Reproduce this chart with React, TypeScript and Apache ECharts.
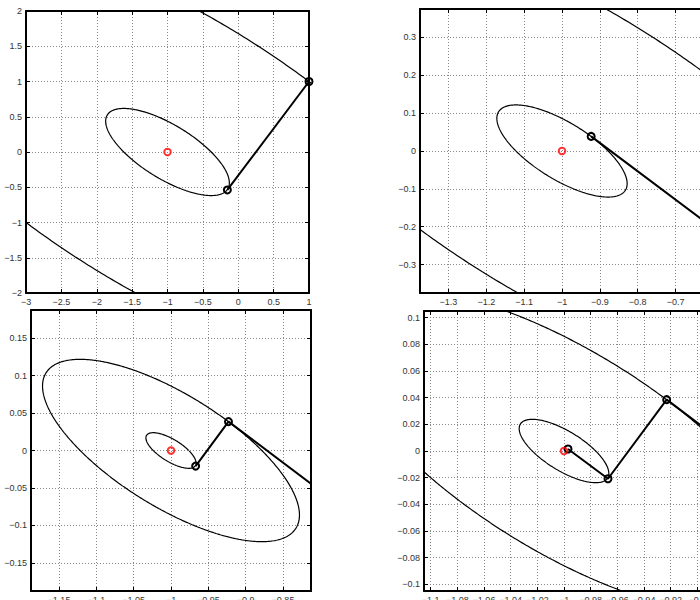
import React, { useEffect, useRef } from "react";
import * as echarts from "echarts";

// Iterates of the descent method
const iterX = [1, -0.154, -0.923, -0.967, -0.997];
const iterY = [1, -0.538, 0.0385, -0.0208, 0.0015];
// Minimiser (red marker)
const optX = [-1];
const optY = [0];
// Quadratic form of the contours: a*u^2 + 2*b*u*v + c*v^2 (u = x - optX, v = y - optY)
const quadCoef = [1, 1, 2];
// Contour levels drawn (the level sets through the iterates)
const levels = [10, 0.382, 0.0148, 0.000565];
// Levels shown in each panel (TL, TR, BL, BR)
const panelLevels = [[0, 1], [1, 2], [2, 3], [2, 3]];
// Number of iterates shown in each panel
const panelIters = [2, 3, 4, 5];
// Axis ranges of each panel
const panelXMin = [-3, -1.375, -1.1875, -1.105];
const panelXMax = [1, -0.625, -0.8125, -0.895];
const panelYMin = [-2, -0.375, -0.1875, -0.105];
const panelYMax = [2, 0.375, 0.1875, 0.105];
const panelSplit = [8, 8, 7, 10];

// layout (pixels)
const grids = [
  { left: 26, top: 11, width: 283, height: 282 },
  { left: 420, top: 9, width: 284, height: 284 },
  { left: 31, top: 310, width: 280, height: 281 },
  { left: 424, top: 311, width: 280, height: 280 },
];

function contour(level: number): number[][] {
  const [a, b, c] = quadCoef;
  const l11 = Math.sqrt(a);
  const l21 = b / l11;
  const l22 = Math.sqrt(c - l21 * l21);
  const r = Math.sqrt(level);
  const pts: number[][] = [];
  for (let i = 0; i <= 720; i++) {
    const t = (i * Math.PI) / 360;
    const v = (r * Math.sin(t)) / l22;
    const u = (r * Math.cos(t) - l21 * v) / l11;
    pts.push([optX[0] + u, optY[0] + v]);
  }
  return pts;
}

const fmt = (v: number) => {
  const s = String(+v.toFixed(6));
  return s.replace("-", "\u2212");
};

const FONT = "Liberation Sans";

export default function App() {
  const ref = useRef<HTMLDivElement>(null);
  useEffect(() => {
    if (!ref.current) return;
    const chart = echarts.init(ref.current, undefined, { renderer: "svg" });
    const xAxis: any[] = [];
    const yAxis: any[] = [];
    const series: any[] = [];
    grids.forEach((g, k) => {
      const showEnds = k === 0;
      const common = {
        type: "value",
        gridIndex: k,
        splitNumber: panelSplit[k],
      };
      const line = { show: true, onZero: false, lineStyle: { color: "#000", width: 2 } };
      const tick = { show: true, inside: true, length: 4, lineStyle: { color: "#000", width: 1 } };
      const label = {
        show: true,
        margin: 4,
        fontSize: 9,
        color: "#333",
        fontFamily: FONT,
        formatter: fmt,
        showMinLabel: showEnds,
        showMaxLabel: showEnds,
      };
      const split = { show: true, lineStyle: { type: [1, 2], color: "#888", width: 1 } };
      xAxis.push({ ...common, position: "bottom", min: panelXMin[k], max: panelXMax[k], axisLine: line, axisTick: tick, axisLabel: label, splitLine: split });
      xAxis.push({ ...common, position: "top", min: panelXMin[k], max: panelXMax[k], axisLine: line, axisTick: tick, axisLabel: { show: false }, splitLine: { show: false } });
      yAxis.push({ ...common, position: "left", min: panelYMin[k], max: panelYMax[k], axisLine: line, axisTick: tick, axisLabel: label, splitLine: split });
      yAxis.push({ ...common, position: "right", min: panelYMin[k], max: panelYMax[k], axisLine: line, axisTick: tick, axisLabel: { show: false }, splitLine: { show: false } });

      panelLevels[k].forEach((li) => {
        series.push({
          type: "line",
          xAxisIndex: 2 * k,
          yAxisIndex: 2 * k,
          data: contour(levels[li]),
          showSymbol: false,
          symbol: "none",
          clip: true,
          silent: true,
          lineStyle: { color: "#000", width: 1.2 },
          z: 3,
        });
      });
      const n = panelIters[k];
      series.push({
        type: "line",
        xAxisIndex: 2 * k,
        yAxisIndex: 2 * k,
        data: iterX.slice(0, n).map((x, i) => [x, iterY[i]]),
        clip: true,
        silent: true,
        symbol: "circle",
        symbolSize: 7,
        showSymbol: true,
        showAllSymbol: true,
        lineStyle: { color: "#000", width: 2 },
        itemStyle: { color: "rgba(0,0,0,0)", borderColor: "#000", borderWidth: 2 },
        z: 4,
      });
      series.push({
        type: "scatter",
        xAxisIndex: 2 * k,
        yAxisIndex: 2 * k,
        data: optX.map((x, i) => [x, optY[i]]),
        symbol: "circle",
        symbolSize: 6.5,
        silent: true,
        itemStyle: { color: "rgba(0,0,0,0)", borderColor: "#f00", borderWidth: 2 },
        z: 5,
      });
    });
    chart.setOption({
      animation: false,
      backgroundColor: "#fff",
      grid: grids.map((g) => ({ ...g, containLabel: false, outerBoundsMode: "none" })),
      xAxis,
      yAxis,
      series,
    });
    return () => chart.dispose();
  }, []);
  return (
    <div
      ref={ref}
      style={{ position: "absolute", left: 0, top: 0, width: 700, height: 600, overflow: "hidden" }}
    />
  );
}
